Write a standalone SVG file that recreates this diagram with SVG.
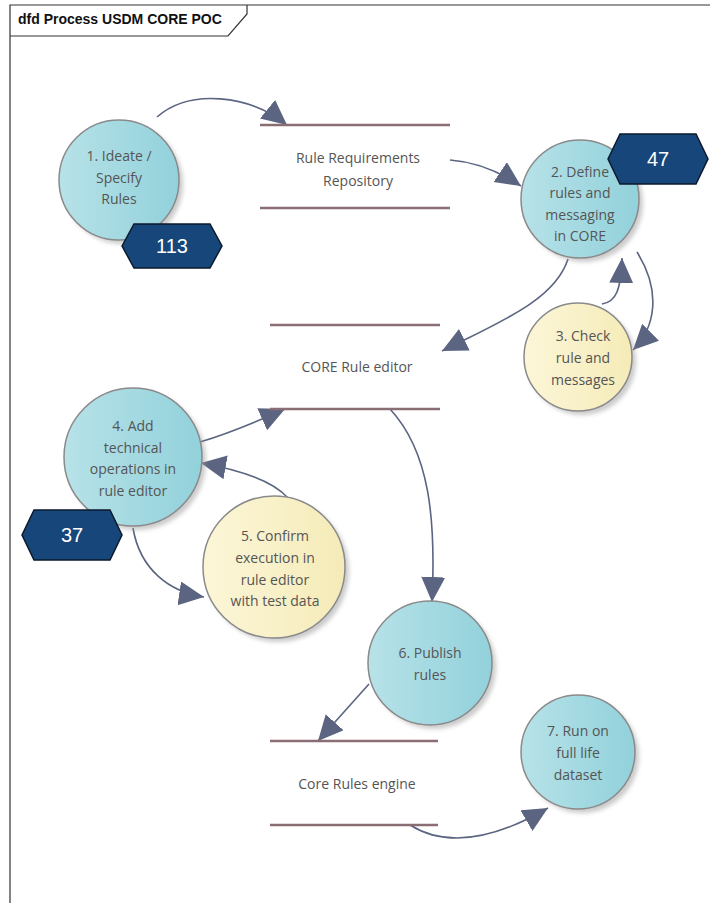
<svg xmlns="http://www.w3.org/2000/svg" width="710" height="903" viewBox="0 0 710 903">
  <style>
    .frame { fill: none; stroke: #333; stroke-width: 1.2; }
    .title { font-family: "Liberation Sans", Arial, sans-serif; font-weight: bold; font-size: 14px; fill: #111; }
    .proc { stroke: #8a8a8a; stroke-width: 1.5; }
    .blue { fill: url(#gBlue); }
    .yellow { fill: url(#gYellow); }
    .lbl { font-family: "Open Sans", "Liberation Sans", sans-serif; font-size: 14px; fill: #555; text-anchor: middle; }
    .store { stroke: #8a6e73; stroke-width: 2.5; }
    .hex { fill: #17467a; stroke: #0b1a2c; stroke-width: 1.5; }
    .hexTxt { font-family: "Liberation Sans", Arial, sans-serif; font-size: 20px; fill: #fff; text-anchor: middle; }
    .flow { fill: none; stroke: #5b6480; stroke-width: 1.6; marker-end: url(#arrow); }
  </style>
  <defs>
    <linearGradient id="gBlue" x1="0" y1="0" x2="1" y2="0">
      <stop offset="0" stop-color="#b7e2e8"/>
      <stop offset="1" stop-color="#92d1db"/>
    </linearGradient>
    <linearGradient id="gYellow" x1="0" y1="0" x2="1" y2="0">
      <stop offset="0" stop-color="#fcf6d8"/>
      <stop offset="1" stop-color="#f5ebb8"/>
    </linearGradient>
    <filter id="shadow" x="-20%" y="-20%" width="140%" height="140%">
      <feGaussianBlur stdDeviation="2"/>
    </filter>
    <marker id="arrow" markerUnits="userSpaceOnUse" markerWidth="28" markerHeight="26" refX="25" refY="12" orient="auto">
      <path d="M0,0 L25,12 L0,24 Z" fill="#5b6480"/>
    </marker>
  </defs>

  <!-- diagram frame -->
  <path class="frame" d="M10,903 V5 H710"/>
  <path class="frame" d="M10,36 H228 L247,14 V5"/>
  <text class="title" x="18" y="24">dfd Process USDM CORE POC</text>

  <!-- connectors -->
  <g id="connectors">
    <path class="flow" d="M157,117 C190,88 250,95 287,125"/>
    <path class="flow" d="M450,160 C478,162 500,172 521,186"/>
    <path class="flow" d="M568,259 C555,300 500,322 442,351"/>
    <path class="flow" d="M637,252 C662,292 655,328 633,350"/>
    <path class="flow" d="M602,304 C616,302 621,290 622,258"/>
    <path class="flow" d="M200,442 C230,433 256,422 285,409"/>
    <path class="flow" d="M288,498 C272,480 240,470 201,463"/>
    <path class="flow" d="M133,528 C140,570 170,592 204,597"/>
    <path class="flow" d="M390,409 C430,452 436,520 432,602"/>
    <path class="flow" d="M369,684 L318,741"/>
    <path class="flow" d="M410,825 C450,850 500,836 548,808"/>
  </g>

  <!-- data stores -->
  <g id="store-requirements">
    <line class="store" x1="260" y1="125" x2="450" y2="125"/>
    <line class="store" x1="260" y1="208" x2="450" y2="208"/>
    <text class="lbl" x="358" y="163">Rule Requirements</text>
    <text class="lbl" x="358" y="186">Repository</text>
  </g>
  <g id="store-editor">
    <line class="store" x1="270" y1="325" x2="440" y2="325"/>
    <line class="store" x1="270" y1="409" x2="440" y2="409"/>
    <text class="lbl" x="357" y="372">CORE Rule editor</text>
  </g>
  <g id="store-engine">
    <line class="store" x1="270" y1="741" x2="438" y2="741"/>
    <line class="store" x1="270" y1="825" x2="438" y2="825"/>
    <text class="lbl" x="357" y="789">Core Rules engine</text>
  </g>

  <!-- processes -->
  <g id="p1">
    <circle cx="123" cy="184" r="60" fill="#999" opacity="0.5" filter="url(#shadow)"/>
    <circle class="proc blue" cx="119" cy="180" r="60"/>
    <text class="lbl" x="119" y="161">1. Ideate /</text>
    <text class="lbl" x="119" y="183">Specify</text>
    <text class="lbl" x="119" y="204">Rules</text>
  </g>
  <g id="p2">
    <circle cx="584" cy="203" r="59" fill="#999" opacity="0.5" filter="url(#shadow)"/>
    <circle class="proc blue" cx="580" cy="199" r="59"/>
    <text class="lbl" x="580" y="177">2. Define</text>
    <text class="lbl" x="580" y="198">rules and</text>
    <text class="lbl" x="580" y="220">messaging</text>
    <text class="lbl" x="580" y="241">in CORE</text>
  </g>
  <g id="p3">
    <circle cx="582" cy="361" r="54" fill="#999" opacity="0.5" filter="url(#shadow)"/>
    <circle class="proc yellow" cx="578" cy="357" r="54"/>
    <text class="lbl" x="583" y="341">3. Check</text>
    <text class="lbl" x="583" y="363">rule and</text>
    <text class="lbl" x="583" y="385">messages</text>
  </g>
  <g id="p4">
    <circle cx="137" cy="461" r="69" fill="#999" opacity="0.5" filter="url(#shadow)"/>
    <circle class="proc blue" cx="133" cy="457" r="69"/>
    <text class="lbl" x="133" y="431">4. Add</text>
    <text class="lbl" x="133" y="453">technical</text>
    <text class="lbl" x="133" y="474">operations in</text>
    <text class="lbl" x="133" y="496">rule editor</text>
  </g>
  <g id="p5">
    <circle cx="278" cy="571" r="71" fill="#999" opacity="0.5" filter="url(#shadow)"/>
    <circle class="proc yellow" cx="274" cy="567" r="71"/>
    <text class="lbl" x="275" y="541">5. Confirm</text>
    <text class="lbl" x="275" y="563">execution in</text>
    <text class="lbl" x="275" y="585">rule editor</text>
    <text class="lbl" x="275" y="606">with test data</text>
  </g>
  <g id="p6">
    <circle cx="434" cy="667" r="62" fill="#999" opacity="0.5" filter="url(#shadow)"/>
    <circle class="proc blue" cx="430" cy="663" r="62"/>
    <text class="lbl" x="430" y="658">6. Publish</text>
    <text class="lbl" x="430" y="680">rules</text>
  </g>
  <g id="p7">
    <circle cx="582" cy="756" r="57" fill="#999" opacity="0.5" filter="url(#shadow)"/>
    <circle class="proc blue" cx="578" cy="752" r="57"/>
    <text class="lbl" x="578" y="736">7. Run on</text>
    <text class="lbl" x="578" y="758">full life</text>
    <text class="lbl" x="578" y="780">dataset</text>
  </g>

  <!-- count badges -->
  <g id="badge-113">
    <polygon class="hex" points="122,246 134,224 210,224 222,246 210,268 134,268"/>
    <text class="hexTxt" x="172" y="253">113</text>
  </g>
  <g id="badge-47">
    <polygon class="hex" points="608,159 620,134 696,134 708,159 696,184 620,184"/>
    <text class="hexTxt" x="658" y="166">47</text>
  </g>
  <g id="badge-37">
    <polygon class="hex" points="22,535 34,510 110,510 122,535 110,560 34,560"/>
    <text class="hexTxt" x="72" y="542">37</text>
  </g>
</svg>
